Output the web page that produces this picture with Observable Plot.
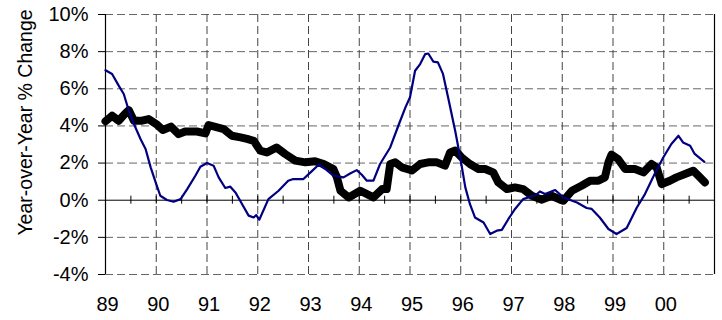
<!DOCTYPE html>
<html><head><meta charset="utf-8">
<script src="https://cdn.jsdelivr.net/npm/d3@7"></script>
<script src="https://cdn.jsdelivr.net/npm/@observablehq/plot@0.6"></script>
<style>body{margin:0;background:#fff}</style>
</head><body><div id="chart"></div>
<script>
// Thick black series (year, % change)
const blackT = [1989.00,1989.13,1989.26,1989.40,1989.46,1989.56,1989.72,1989.85,1990.00,1990.13,1990.29,1990.44,1990.57,1990.80,1990.97,1991.03,1991.20,1991.33,1991.49,1991.66,1991.79,1991.92,1992.05,1992.18,1992.37,1992.54,1992.74,1992.94,1993.13,1993.30,1993.49,1993.56,1993.63,1993.79,1994.02,1994.28,1994.45,1994.54,1994.61,1994.71,1994.84,1995.04,1995.20,1995.36,1995.53,1995.69,1995.79,1995.89,1996.02,1996.18,1996.35,1996.48,1996.64,1996.74,1996.91,1997.07,1997.23,1997.40,1997.60,1997.79,1997.99,1998.02,1998.19,1998.38,1998.55,1998.71,1998.84,1998.91,1998.97,1999.10,1999.24,1999.43,1999.60,1999.76,1999.86,1999.96,2000.12,2000.25,2000.42,2000.58,2000.68,2000.81];
const blackV = [4.25,4.55,4.28,4.7,4.85,4.28,4.28,4.37,4.1,3.78,3.96,3.56,3.7,3.7,3.6,4.05,3.92,3.83,3.47,3.38,3.3,3.2,2.67,2.57,2.84,2.49,2.13,2.04,2.1,1.95,1.68,1.23,0.51,0.15,0.51,0.15,0.6,0.6,1.95,2.04,1.77,1.6,1.95,2.04,2.04,1.86,2.57,2.67,2.3,1.95,1.68,1.68,1.5,0.96,0.6,0.69,0.6,0.24,0.03,0.24,0.0,-0.03,0.51,0.78,1.05,1.05,1.23,2.04,2.45,2.22,1.68,1.68,1.5,1.95,1.77,0.87,1.05,1.23,1.41,1.59,1.32,0.96];
// Thin navy series (year, % change)
const blueT = [1989.00,1989.13,1989.26,1989.36,1989.46,1989.56,1989.69,1989.79,1989.89,1990.00,1990.08,1990.21,1990.34,1990.48,1990.61,1990.77,1990.87,1991.00,1991.13,1991.23,1991.36,1991.46,1991.56,1991.69,1991.82,1991.92,1991.97,1992.03,1992.21,1992.41,1992.60,1992.70,1992.90,1993.04,1993.20,1993.33,1993.49,1993.69,1993.82,1993.95,1994.05,1994.15,1994.28,1994.41,1994.61,1994.77,1994.91,1995.00,1995.10,1995.20,1995.30,1995.36,1995.46,1995.55,1995.65,1995.75,1995.89,1995.99,1996.09,1996.18,1996.28,1996.45,1996.58,1996.71,1996.81,1996.94,1997.07,1997.23,1997.37,1997.46,1997.56,1997.66,1997.86,1998.02,1998.29,1998.48,1998.58,1998.74,1998.91,1999.07,1999.27,1999.47,1999.63,1999.82,1999.99,2000.15,2000.29,2000.38,2000.52,2000.61,2000.80];
const blueV = [7.0,6.8,6.17,5.72,4.82,4.1,3.3,2.76,1.77,0.87,0.24,0.01,-0.08,0.06,0.6,1.32,1.8,2.0,1.86,1.23,0.66,0.73,0.42,-0.2,-0.83,-0.93,-0.8,-1.05,0.06,0.51,1.05,1.14,1.14,1.5,1.91,1.68,1.32,1.23,1.44,1.62,1.37,1.05,1.05,1.95,2.84,4.01,5.0,5.54,6.97,7.33,7.87,7.9,7.46,7.42,6.8,5.54,3.74,2.3,0.69,-0.2,-0.93,-1.2,-1.82,-1.64,-1.6,-1.01,-0.47,0.06,0.19,0.24,0.47,0.33,0.55,0.15,-0.12,-0.42,-0.47,-0.93,-1.55,-1.82,-1.5,-0.39,0.33,1.41,2.3,3.03,3.47,3.11,2.93,2.49,2.07];

const xDomain = [1989, 2001];
const yDomain = [-4, 10];
const yearTicks = [1989,1990,1991,1992,1993,1994,1995,1996,1997,1998,1999,2000];
const yearGrid = [1990,1991,1992,1993,1994,1995,1996,1997,1998,1999,2000];
const halfYearTicks = [1989.5,1990,1990.5,1991,1991.5,1992,1992.5,1993,1993.5,1994,1994.5,1995,1995.5,1996,1996.5,1997,1997.5,1998,1998.5,1999,1999.5,2000,2000.5];
const yTicks = [-4,-2,0,2,4,6,8,10];
const yGrid = [-4,-2,2,4,6,8,10];
const yLabel = "Year-over-Year % Change";

const blackData = blackT.map((t, i) => ({t, v: blackV[i]}));
const blueData = blueT.map((t, i) => ({t, v: blueV[i]}));

const chart = Plot.plot({
  width: 722, height: 320,
  marginLeft: 105, marginRight: 8, marginTop: 14, marginBottom: 46,
  style: {fontFamily: "'Liberation Sans', Arial, sans-serif", fontSize: "20px", color: "black", background: "white"},
  x: {domain: xDomain},
  y: {domain: yDomain},
  marks: [
    Plot.ruleY(yGrid, {stroke: "#666", strokeDasharray: "8,4"}),
    Plot.ruleX(yearGrid, {stroke: "#444", strokeDasharray: "8,4"}),
    Plot.ruleY([0], {stroke: "black"}),
    Plot.ruleX(halfYearTicks, {x: d => d, y1: 0, y2: 0, insetTop: -4, insetBottom: -4, stroke: "black"}),
    Plot.ruleX(xDomain, {stroke: "black", strokeWidth: 1.2}),
    Plot.line(blackData, {x: "t", y: "v", stroke: "black", strokeWidth: 8, strokeLinejoin: "round"}),
    Plot.line(blueData, {x: "t", y: "v", stroke: "#000080", strokeWidth: 2.2, strokeLinejoin: "round"}),
    Plot.axisY({ticks: yTicks, tickFormat: d => d + "%", tickSize: 7, tickPadding: 10, fontSize: 20, label: null}),
    Plot.axisX({ticks: yearTicks, tickFormat: d => String(d % 100).padStart(2, "0"), tickSize: 0, tickPadding: 22, dx: 2, fontSize: 20, label: null}),
    Plot.text([yLabel], {text: d => d, frameAnchor: "left", textAnchor: "middle", dx: -80, dy: -22, rotate: -90, fontSize: 19.5})
  ]
});
document.getElementById("chart").appendChild(chart);
</script>
</body></html>
